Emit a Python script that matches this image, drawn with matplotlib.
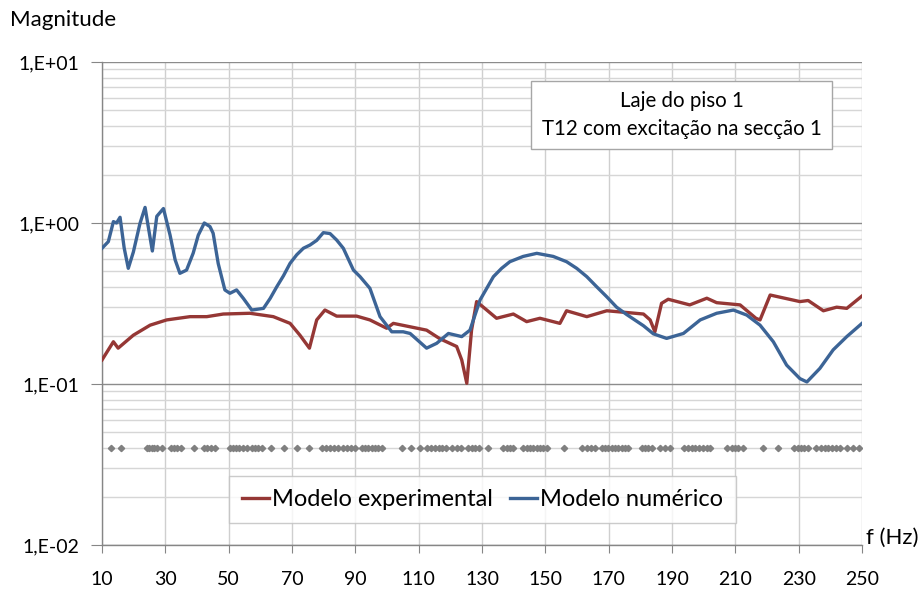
import matplotlib
matplotlib.use("Agg")
import matplotlib.pyplot as plt
from matplotlib.ticker import FixedLocator, LogLocator, NullFormatter, FuncFormatter
import numpy as np

# Frequency response, experimental model (Hz, magnitude)
f_exp = [10, 12, 13.6, 15.1, 19.9, 25.2, 30.4, 37.8, 43.1, 48.3, 56.7, 64.1, 69.4,
         72.5, 75.5, 77.8, 80.4, 84.1, 90.4, 94.6, 99.9, 102, 112.5, 116.7, 122,
         123.6, 125.2, 126.7, 128.3, 131.5, 134.6, 139.9, 144.1, 148.3, 154.6,
         156.7, 163.1, 169.4, 175.7, 181, 183.1, 184.6, 186.7, 188.8, 195.6, 201,
         204.1, 211.5, 216.5, 217.8, 221, 230.4, 233, 237.8, 242, 245.2, 250]
mag_exp = [0.141, 0.163, 0.183, 0.167, 0.201, 0.232, 0.25, 0.262, 0.262, 0.272,
           0.275, 0.262, 0.238, 0.201, 0.167, 0.25, 0.288, 0.264, 0.264, 0.25,
           0.222, 0.238, 0.216, 0.191, 0.171, 0.141, 0.101, 0.216, 0.325, 0.288,
           0.256, 0.272, 0.244, 0.256, 0.238, 0.285, 0.262, 0.285, 0.278, 0.272,
           0.25, 0.211, 0.317, 0.336, 0.31, 0.341, 0.32, 0.31, 0.256, 0.25, 0.357,
           0.325, 0.33, 0.285, 0.30, 0.295, 0.352]

# Frequency response, numerical model (Hz, magnitude)
f_num = [10, 12, 13.6, 14.6, 15.7, 17.0, 18.3, 19.9, 22.0, 23.6, 24.6, 25.9, 27.3,
         29.4, 31.5, 33.1, 34.6, 36.7, 38.8, 40.4, 42.3, 44.1, 45.1, 46.7, 48.8,
         50.4, 52.5, 54.6, 57.3, 61.0, 63.1, 65.2, 67.3, 69.4, 71.5, 73.6, 75.7,
         77.8, 79.9, 82.0, 84.1, 86.2, 89.4, 91.5, 94.6, 97.8, 101.5, 105.1, 107.3,
         112.5, 115.7, 119.4, 123.6, 126.2, 129.4, 131.5, 133.6, 136.2, 138.8,
         143.0, 147.3, 152.5, 156.7, 159.9, 163.1, 166.2, 169.4, 172.5, 175.7,
         181.0, 184.1, 188.3, 193.6, 198.9, 204.1, 209.4, 213.6, 217.8, 222.0,
         226.2, 230.4, 232.6, 236.7, 240.9, 245.2, 250]
mag_num = [0.697, 0.766, 1.02, 1.0, 1.085, 0.70, 0.523, 0.66, 0.995, 1.25, 0.95,
           0.67, 1.1, 1.23, 0.84, 0.59, 0.487, 0.51, 0.65, 0.84, 1.0, 0.95, 0.863,
           0.56, 0.384, 0.366, 0.384, 0.341, 0.288, 0.295, 0.34, 0.402, 0.47,
           0.562, 0.635, 0.697, 0.73, 0.78, 0.871, 0.86, 0.784, 0.697, 0.51, 0.464,
           0.393, 0.262, 0.211, 0.211, 0.206, 0.167, 0.179, 0.206, 0.197, 0.216,
           0.333, 0.393, 0.464, 0.523, 0.575, 0.62, 0.648, 0.62, 0.575, 0.523,
           0.464, 0.402, 0.348, 0.30, 0.27, 0.23, 0.205, 0.192, 0.206, 0.25,
           0.275, 0.288, 0.268, 0.232, 0.183, 0.131, 0.108, 0.103, 0.125, 0.163,
           0.197, 0.238]

# Frequencies marked along the 0.04 level
f_marks = [12.8, 15.9, 24.1, 24.9, 25.8, 26.5, 27.4, 28.9, 31.8, 32.7, 33.8, 34.9,
           39.1, 42.2, 43.3, 44.3, 45.7, 50.4, 51.5, 52.3, 53.4, 54.4, 55.7, 57.3,
           58.3, 59.4, 60.4, 63.4, 67.6, 71.5, 75.4, 79.4, 80.7, 82.0, 83.4, 84.6,
           86.0, 87.3, 88.5, 89.9, 92.0, 93.1, 94.1, 95.2, 96.2, 97.3, 98.3, 104.6,
           107.6, 110.4, 112.5, 113.9, 115.2, 116.4, 117.5, 118.5, 120.4, 122.0,
           123.4, 125.7, 126.7, 127.8, 129.1, 132.0, 136.6, 137.8, 138.8, 139.9,
           143.0, 144.1, 145.2, 146.2, 147.3, 148.3, 149.4, 150.4, 156.0, 161.5,
           163.1, 164.4, 165.7, 167.8, 168.8, 169.9, 171.0, 172.0, 173.1, 174.1,
           175.2, 176.1, 180.4, 181.5, 182.5, 183.6, 186.2, 187.8, 189.4, 193.8,
           195.1, 196.3, 197.3, 198.5, 199.8, 201.1, 202.0, 207.3, 208.8, 209.9,
           210.9, 212.3, 218.6, 223.4, 228.6, 229.7, 230.7, 231.8, 232.8, 235.5,
           237.0, 238.3, 239.4, 240.4, 241.8, 243.1, 245.4, 247.1, 248.9]
mark_level = 0.04

x_ticks = list(range(10, 251, 20))
y_ticks = [0.01, 0.1, 1, 10]
y_labels = {0.01: "1,E-02", 0.1: "1,E-01", 1: "1,E+00", 10: "1,E+01"}

plt.rcParams['font.family'] = ['Lato', 'DejaVu Sans']

fig = plt.figure(figsize=(9.23, 5.95), dpi=100)
ax = fig.add_axes([102 / 923, 1 - 545 / 595, 760 / 923, 483 / 595])

ax.set_yscale('log')
ax.set_xlim(10, 250)
ax.set_ylim(0.01, 10)

ax.xaxis.set_major_locator(FixedLocator(x_ticks))
ax.yaxis.set_major_locator(FixedLocator(y_ticks))
ax.yaxis.set_minor_locator(LogLocator(base=10, subs=np.arange(2, 10)))
ax.yaxis.set_minor_formatter(NullFormatter())
ax.yaxis.set_major_formatter(FuncFormatter(lambda v, p: y_labels.get(round(v, 4), "")))

ax.grid(True, which='major', axis='y', color='#8c8c8c', lw=1.0)
ax.grid(True, which='minor', axis='y', color='#d6d6d6', lw=1.0)
ax.grid(True, which='major', axis='x', color='#cfcfcf', lw=1.0)
ax.set_axisbelow(True)

for s in ['top', 'right']:
    ax.spines[s].set_visible(False)
for s in ['left', 'bottom']:
    ax.spines[s].set_color('#868686')
    ax.spines[s].set_linewidth(1.0)

ax.tick_params(axis='x', which='major', direction='out', length=6, color='#868686',
               labelsize=14, pad=13, labelcolor='#000000')
ax.tick_params(axis='y', which='major', direction='out', length=8, color='#868686',
               labelsize=14, pad=8, labelcolor='#000000')
ax.tick_params(axis='y', which='minor', length=0)

ax.plot(f_marks, [mark_level] * len(f_marks), linestyle='none', marker='D',
        markersize=3.2, color='#808080', zorder=3)
l1, = ax.plot(f_exp, mag_exp, color='#953735', lw=2.4, label='Modelo experimental',
              zorder=4, solid_joinstyle='round')
l2, = ax.plot(f_num, mag_num, color='#3c6496', lw=2.4, label='Modelo numérico',
              zorder=5, solid_joinstyle='round')

leg = ax.legend(handles=[l1, l2], loc='center',
                bbox_to_anchor=((482.5 - 102) / 760, (545 - 499.5) / 483),
                ncol=2, frameon=True, fancybox=False,
                fontsize=17, handlelength=1.15, handletextpad=0.15,
                columnspacing=0.7, borderaxespad=0, borderpad=0.55)
leg.get_frame().set_edgecolor('#bfbfbf')
leg.get_frame().set_linewidth(1.0)

ax.text((681.5 - 102) / 760, (545 - 115) / 483,
        "Laje do piso 1\nT12 com excitação na secção 1",
        transform=ax.transAxes, ha='center', va='center', fontsize=14.8,
        linespacing=1.45,
        bbox=dict(boxstyle='square,pad=0.5', facecolor='white', edgecolor='#a6a6a6',
                  lw=1.0))

fig.text(10 / 923, 1 - 20 / 595, "Magnitude", ha='left', va='center', fontsize=16)
fig.text(866 / 923, 1 - 538 / 595, "f (Hz)", ha='left', va='center', fontsize=16)

fig.savefig("out.png", dpi=100, facecolor='white')
